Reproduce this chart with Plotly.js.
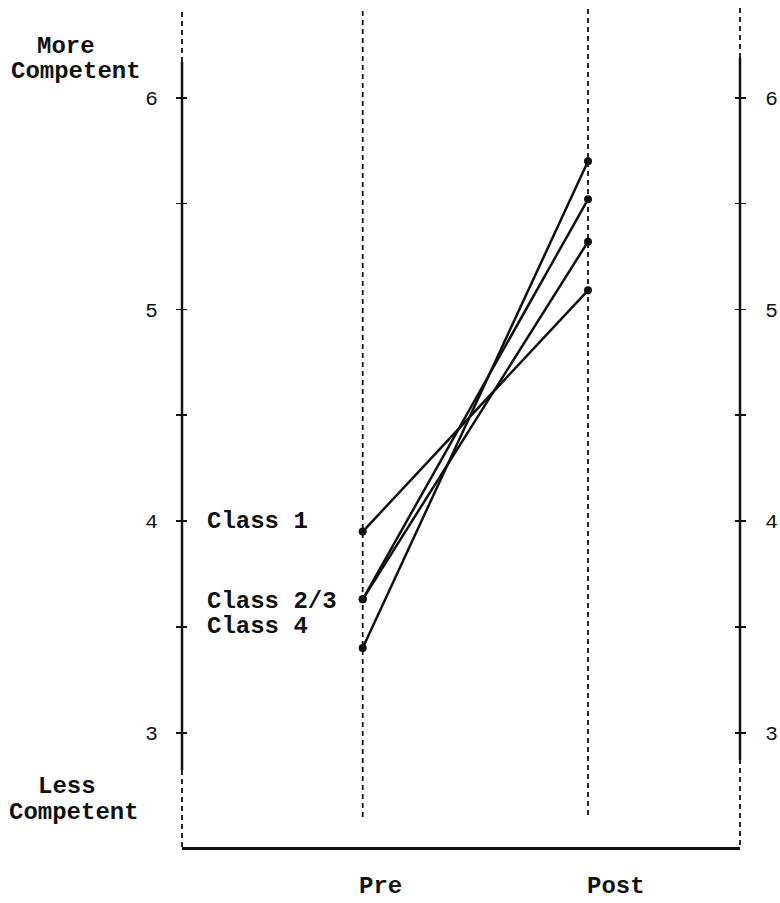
<!DOCTYPE html>
<html>
<head>
<meta charset="utf-8">
<script src="https://cdn.plot.ly/plotly-3.0.1.min.js"></script>
<style>
html, body { margin: 0; padding: 0; background: #fff; }
#chart { width: 780px; height: 903px; }
</style>
</head>
<body>
<div id="chart"></div>
<script>
// ---- data ----
var categories = ["Pre", "Post"];
var class1 = [3.95, 5.09];
var class2 = [3.63, 5.52];
var class3 = [3.63, 5.32];
var class4 = [3.40, 5.70];
var classLabels = ["Class 1", "Class 2/3", "Class 4"];
var tickVals = [3, 3.5, 4, 4.5, 5, 5.5, 6];
var tickText = ["3", "", "4", "", "5", "", "6"];

var FONT = "Liberation Mono, Courier New, monospace";
var INK = "#111";

function series(vals, name) {
  return {
    x: categories, y: vals, name: name, type: "scatter", mode: "lines+markers",
    line: {color: INK, width: 2.5},
    marker: {color: INK, size: 8, symbol: "circle"},
    showlegend: false, hoverinfo: "skip"
  };
}
// invisible carrier traces so the overlay axes (right axis, crossing ticks) are drawn
function carrier(axis) {
  return {x: categories, y: class1, yaxis: axis, type: "scatter", mode: "markers",
          marker: {opacity: 0, size: 1}, showlegend: false, hoverinfo: "skip"};
}

var traces = [
  series(class1, "Class 1"),
  series(class2, "Class 2"),
  series(class3, "Class 3"),
  series(class4, "Class 4"),
  carrier("y2"), carrier("y3"), carrier("y4")
];

var yr = [2.46, 6.438];
var tickFont = {family: FONT, size: 21, color: INK};
var baseY = {
  range: yr, autorange: false, tickmode: "array", tickvals: tickVals, ticktext: tickText,
  showgrid: false, zeroline: false, showline: false,
  tickwidth: 1.6, tickcolor: INK, ticklen: 5, fixedrange: true
};

var layout = {
  width: 780, height: 903,
  margin: {l: 182, r: 40, t: 5, b: 56, pad: 0},
  paper_bgcolor: "#fff", plot_bgcolor: "#fff",
  xaxis: {
    type: "category", categoryarray: categories, range: [-0.802, 1.6746],
    showgrid: false, zeroline: false, showline: true, linecolor: INK, linewidth: 2.5,
    ticks: "", showticklabels: false, fixedrange: true
  },
  yaxis: Object.assign({}, baseY, {side: "left", ticks: "outside", tickfont: tickFont, ticklabelstandoff: 14}),
  yaxis3: Object.assign({}, baseY, {overlaying: "y", side: "left", anchor: "x", ticks: "inside", showticklabels: false}),
  yaxis2: Object.assign({}, baseY, {overlaying: "y", side: "right", anchor: "x", ticks: "outside", tickfont: tickFont, ticklabelstandoff: 15}),
  yaxis4: Object.assign({}, baseY, {overlaying: "y", side: "right", anchor: "x", ticks: "inside", showticklabels: false}),
  shapes: [],
  annotations: []
};

// axis lines: solid middle part, dashed ends
function vline(xref, x, y0, y1, dash, w) {
  return {type: "line", xref: xref, yref: "y", x0: x, x1: x, y0: y0, y1: y1,
          line: {color: INK, width: w, dash: dash}, layer: "below"};
}
var dsh = "5px,4px";
layout.shapes.push(vline("paper", 0, 2.824, 6.169, "solid", 2.5));
layout.shapes.push(vline("paper", 0, 6.169, 6.42, dsh, 1.8));
layout.shapes.push(vline("paper", 0, 2.46, 2.824, dsh, 1.8));
layout.shapes.push(vline("paper", 1, 2.871, 6.188, "solid", 2.5));
layout.shapes.push(vline("paper", 1, 6.188, 6.43, dsh, 1.8));
layout.shapes.push(vline("paper", 1, 2.47, 2.871, dsh, 1.8));
// dashed guides at Pre / Post
layout.shapes.push(vline("x", 0, 2.602, 6.424, dsh, 1.8));
layout.shapes.push(vline("x", 1, 2.611, 6.428, dsh, 1.8));

var txtFont = {family: FONT, size: 24, color: INK, weight: "bold"};
function note(text, opts) {
  return Object.assign({text: text, showarrow: false, font: txtFont}, opts);
}
layout.annotations.push(note("More", {xref: "paper", yref: "paper", x: 0, y: 1, xanchor: "center", yanchor: "middle", xshift: -116, yshift: -41}));
layout.annotations.push(note("Competent", {xref: "paper", yref: "paper", x: 0, y: 1, xanchor: "center", yanchor: "middle", xshift: -106, yshift: -66}));
layout.annotations.push(note("Less", {xref: "paper", yref: "paper", x: 0, y: 0, xanchor: "center", yanchor: "middle", xshift: -115, yshift: 61}));
layout.annotations.push(note("Competent", {xref: "paper", yref: "paper", x: 0, y: 0, xanchor: "center", yanchor: "middle", xshift: -108, yshift: 35}));

var labelY = [4.0, 3.62, 3.5];
classLabels.forEach(function (t, i) {
  layout.annotations.push(note(t, {xref: "paper", yref: "y", x: 0, y: labelY[i], xanchor: "left", yanchor: "middle", xshift: 23}));
});
categories.forEach(function (c, i) {
  layout.annotations.push(note(c, {xref: "x", yref: "paper", x: i, y: 0, xanchor: "left", yanchor: "middle", xshift: i === 0 ? -6 : -3, yshift: -39}));
});

Plotly.newPlot("chart", traces, layout, {displayModeBar: false, staticPlot: true});
</script>
</body>
</html>
